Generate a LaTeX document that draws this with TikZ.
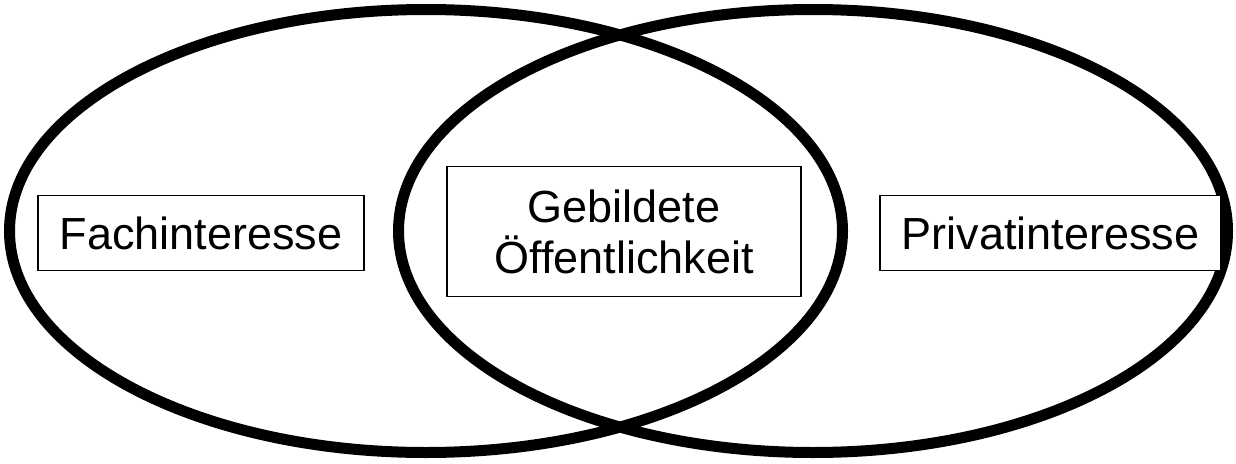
\documentclass[tikz,border=0pt]{standalone}
\usepackage{fontspec}
\setmainfont{Liberation Sans}
\begin{document}
\begin{tikzpicture}[x=1pt,y=-1pt,
  ring/.style={draw=black,line width=11pt},
  label/.style={draw=black,fill=white,line width=1.3pt,inner sep=0pt,align=center,
    font=\fontsize{45}{51}\selectfont}]
\useasboundingbox[fill=white] (0,0) rectangle (1236,463);
\draw[ring] (426,231) ellipse [x radius=416.5, y radius=221.5];
\draw[ring] (813,231) ellipse [x radius=414.5, y radius=221.5];
\node[label,minimum width=326pt,minimum height=75pt] (fach) at (201,233) {Fachinteresse};
\node[label,minimum width=354pt,minimum height=130pt] (geb) at (624,231.5) {Gebildete\\Öffentlichkeit};
\node[label,minimum width=341pt,minimum height=75pt] (priv) at (1050.5,233) {Privatinteresse};
\end{tikzpicture}
\end{document}
